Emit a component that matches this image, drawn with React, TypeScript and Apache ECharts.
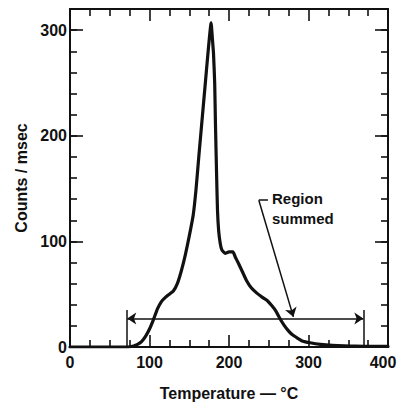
import React, { useEffect, useRef } from "react";
import * as echarts from "echarts";

// Temperature (°C) and counting rate (counts/msec)
const temps = [0, 60, 72, 80, 85, 90, 95, 100, 105, 110, 115, 120, 125, 130, 135, 140, 145, 150, 155, 158.5, 162, 166, 170, 174, 177.5, 179, 180.5, 182, 183, 184.5, 185.5, 187, 189, 191, 195, 200, 205, 208, 212, 217, 222, 228, 235, 242, 248, 254, 259, 264, 269, 274, 279, 285, 293, 302, 315, 330, 345, 360, 380, 400];
const counts = [0, 0, 0, 1, 2.5, 5, 10, 17, 26, 36, 43, 47, 50, 53, 60, 72, 87, 105, 125, 149, 180, 214, 248, 282, 307, 293, 278, 250, 210, 160, 130, 110, 98, 92, 88.7, 90, 90, 85, 79, 71, 63, 56, 51, 47, 44, 39, 34, 27, 21, 16, 12, 9, 5.5, 4, 2.5, 1.5, 1, 0.8, 0.5, 0.5];

// Axis ranges and tick labels
const xRange = [0, 400];
const yRange = [0, 320];
const yLabelValues = [0, 100, 200, 300];

// "Region summed" bracket (data units)
const regionStart = 72;
const regionEnd = 369;
const regionLevel = 27;
const regionBarTop = 35;
const pointerStart = [237.5, 139];
const pointerEnd = [281, 28.5];
const dashEnd = [249, 139];
const noteLines = ["Region", "summed"];

const INK = "#111";
const FONT = "Liberation Sans";

export default function App() {
  const ref = useRef<HTMLDivElement>(null);
  useEffect(() => {
    if (!ref.current) return;
    const chart = echarts.init(ref.current, undefined, { renderer: "svg" });
    const axisLine = { show: true, onZero: false, lineStyle: { color: INK, width: 2 } };
    const labelStyle = { color: INK, fontSize: 16, fontWeight: "bold" as const, fontFamily: FONT };
    const xBase = (position: "bottom" | "top", labels: boolean) => ({
      type: "value",
      position,
      min: xRange[0],
      max: xRange[1],
      interval: 100,
      axisLine,
      axisTick: { show: true, inside: true, length: 12, lineStyle: { color: INK, width: 1.6 } },
      minorTick: { show: true, splitNumber: 4, length: 7, lineStyle: { color: INK, width: 1.6 } },
      axisLabel: {
        show: labels,
        margin: 7,
        ...labelStyle,
        formatter: (v: number) => (v === xRange[1] ? `{last|${v}}` : String(v)),
        rich: { last: { ...labelStyle, padding: [0, 10, 0, 0] } },
      },
      splitLine: { show: false },
      minorSplitLine: { show: false },
    });
    const yBase = (position: "left" | "right", interval: number, tickLen: number, labels: boolean) => ({
      type: "value",
      position,
      min: yRange[0],
      max: yRange[1],
      interval,
      axisLine,
      axisTick: { show: true, inside: true, length: tickLen, lineStyle: { color: INK, width: 1.6 } },
      axisLabel: {
        show: labels,
        margin: 3,
        ...labelStyle,
        formatter: (v: number) => (yLabelValues.includes(v) ? String(v) : ""),
      },
      splitLine: { show: false },
    });
    const bracketLine = (a: number[], b: number[], startSym = "none", endSym = "none") => [
      { coord: a, symbol: startSym },
      { coord: b, symbol: endSym },
    ];
    chart.setOption({
      animation: false,
      grid: { left: 70, right: 11, top: 9, bottom: 56, containLabel: false, outerBoundsMode: "none" },
      xAxis: [
        {
          ...xBase("bottom", true),
          name: "Temperature — °C",
          nameLocation: "middle",
          nameGap: 38,
          nameTextStyle: { ...labelStyle, fontSize: 16 },
        },
        xBase("top", false),
      ],
      yAxis: [
        {
          ...yBase("left", 20, 7, true),
          name: "Counts / msec",
          nameLocation: "middle",
          nameGap: 40,
          nameTextStyle: { ...labelStyle, fontSize: 16 },
        },
        yBase("left", 100, 13, false),
        yBase("right", 20, 7, false),
        yBase("right", 100, 13, false),
      ],
      series: [
        {
          type: "line",
          data: temps.map((t, i) => [t, counts[i]]),
          showSymbol: false,
          symbol: "none",
          lineStyle: { color: INK, width: 3.2, cap: "round", join: "round" },
          smooth: 0.15,
          z: 3,
          markLine: {
            silent: true,
            symbol: ["none", "none"],
            symbolSize: 9,
            label: { show: false },
            lineStyle: { color: INK, width: 1.5, type: "solid" },
            emphasis: { disabled: true },
            data: [
              bracketLine([regionStart, regionLevel], [regionEnd, regionLevel], "arrow", "arrow"),
              bracketLine([regionStart, 0], [regionStart, regionBarTop]),
              bracketLine([regionEnd, 0], [regionEnd, regionBarTop]),
              bracketLine(pointerStart, pointerEnd, "none", "arrow"),
              bracketLine(pointerStart, dashEnd),
            ],
          },
        },
      ],
      graphic: [
        {
          type: "text",
          left: 272,
          top: 188,
          style: {
            text: noteLines.join("\n"),
            fill: INK,
            font: `bold 15px "${FONT}"`,
            lineHeight: 20,
          },
        },
      ],
    });
    return () => chart.dispose();
  }, []);
  return (
    <div
      ref={ref}
      style={{ position: "fixed", left: 0, top: 0, width: 399, height: 403, background: "#fff" }}
    />
  );
}
